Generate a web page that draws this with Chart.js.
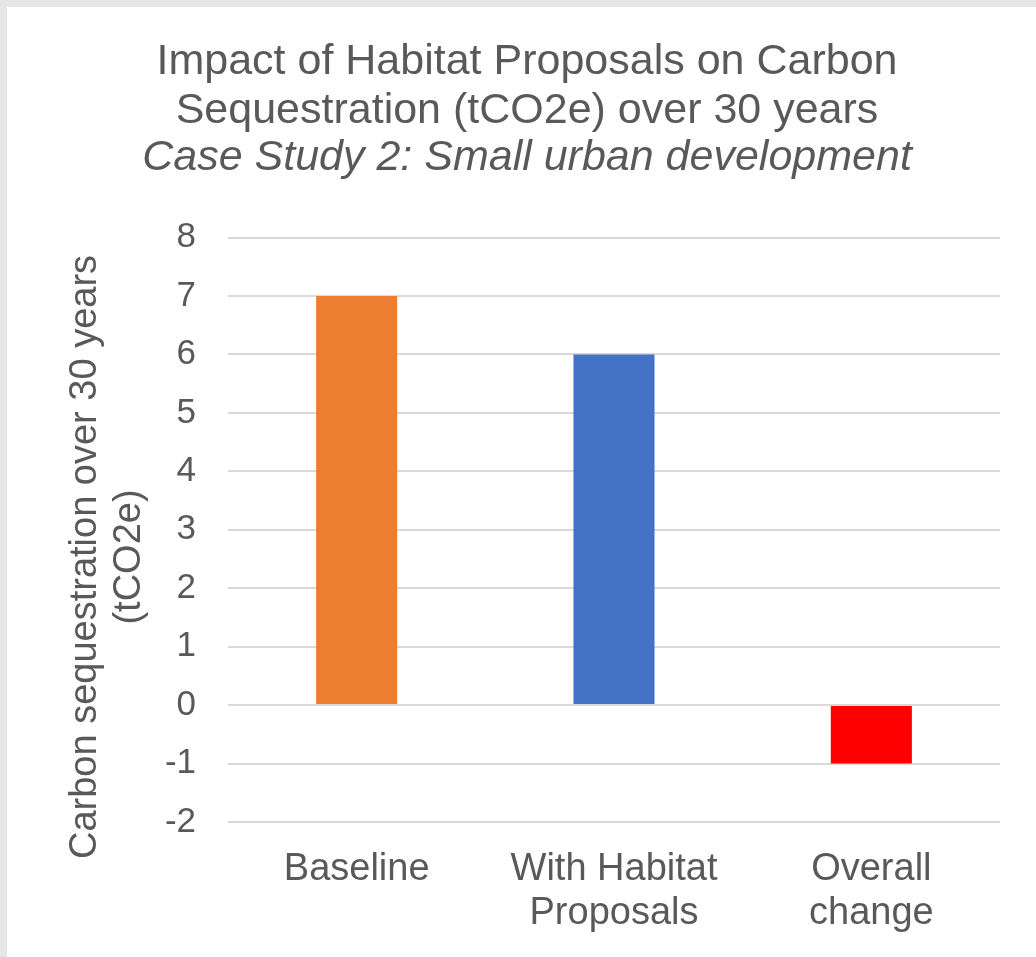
<!DOCTYPE html>
<html>
<head>
<meta charset="utf-8">
<script src="https://cdn.jsdelivr.net/npm/chart.js@4"></script>
<style>
  html, body { margin: 0; padding: 0; background: #e6e6e6; }
  #frame {
    position: absolute; left: 7px; top: 7px;
    width: 1029px; height: 950px; background: #ffffff;
  }
</style>
</head>
<body>
<div id="frame"><canvas id="chart"></canvas></div>
<script>
// chart data
const categories = [['Baseline'], ['With Habitat', 'Proposals'], ['Overall', 'change']];
const sequestration = [7, 6, -1];
const titleLines = ['Impact of Habitat Proposals on Carbon', 'Sequestration (tCO2e) over 30 years'];
const subtitleText = 'Case Study 2: Small urban development';
const yAxisTitle = ['Carbon sequestration over 30 years', '(tCO2e)'];

const textColor = '#595959';
const fontFamily = '"Liberation Sans", Arial, sans-serif';

// rotated y axis title, placed like the Excel original
const yTitlePlugin = {
    id: 'yTitle',
    afterDraw(chart) {
        const ctx = chart.ctx;
        ctx.save();
        ctx.translate(79, 550);
        ctx.rotate(-Math.PI / 2);
        ctx.font = '38px ' + fontFamily;
        ctx.fillStyle = textColor;
        ctx.textAlign = 'center';
        ctx.textBaseline = 'middle';
        yAxisTitle.forEach((line, i) => ctx.fillText(line, 0, i * 44));
        ctx.restore();
    }
};

const ctx = document.getElementById('chart').getContext('2d');
new Chart(ctx, {
    type: 'bar',
    data: {
        labels: categories,
        datasets: [{
            data: sequestration,
            backgroundColor: ['#ED7D31', '#4472C4', '#FF0000'],
            barPercentage: 0.315,
            categoryPercentage: 1.0
        }]
    },
    options: {
        responsive: true,
        maintainAspectRatio: false,
        animation: false,
        layout: {
            padding: { left: 11, right: 0, top: 0, bottom: 0 }
        },
        scales: {
            x: {
                grid: { display: false, drawTicks: false },
                border: { display: false },
                ticks: {
                    color: textColor,
                    padding: 25,
                    maxRotation: 0,
                    autoSkip: false,
                    font: { family: fontFamily, size: 38, lineHeight: 1.16 }
                },
                afterFit: s => { s.height = 135; }
            },
            y: {
                min: -2,
                max: 8,
                grid: { color: '#d9d9d9', lineWidth: 2, drawTicks: false },
                border: { display: false },
                ticks: {
                    stepSize: 1,
                    color: textColor,
                    padding: 32,
                    font: { family: fontFamily, size: 35 }
                },
                afterFit: s => { s.width = 210; }
            },
            // empty right-hand spacer so the title centres like the original
            spacer: {
                type: 'linear',
                position: 'right',
                grid: { display: false, drawTicks: false },
                border: { display: false },
                ticks: { display: false },
                afterFit: s => { s.width = 36; }
            }
        },
        plugins: {
            legend: { display: false },
            tooltip: { enabled: false },
            title: {
                display: true,
                text: titleLines,
                color: textColor,
                padding: { top: 31, bottom: 0 },
                font: { family: fontFamily, size: 43, weight: 'normal', lineHeight: 1.13 }
            },
            subtitle: {
                display: true,
                text: subtitleText,
                color: textColor,
                padding: { top: 0, bottom: 56 },
                font: { family: fontFamily, size: 43, style: 'italic', lineHeight: 1.08 }
            }
        }
    },
    plugins: [yTitlePlugin]
});
</script>
</body>
</html>
